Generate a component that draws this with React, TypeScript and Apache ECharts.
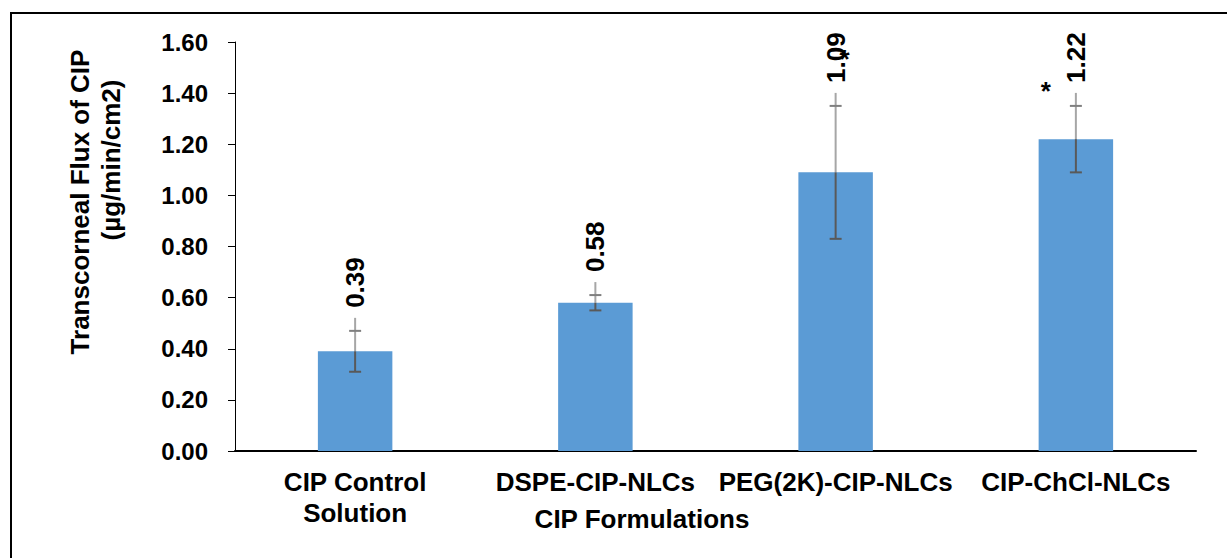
import React, { useEffect, useRef } from "react";
import * as echarts from "echarts";

// Formulations and their mean transcorneal flux (µg/min/cm2) with ± error
const categories = [
  "CIP Control\nSolution",
  "DSPE-CIP-NLCs",
  "PEG(2K)-CIP-NLCs",
  "CIP-ChCl-NLCs",
];
const fluxValues = [0.39, 0.58, 1.09, 1.22];
const fluxErrors = [0.08, 0.03, 0.26, 0.13];
const significant = [false, false, true, true];

const yTicks = { min: 0, max: 1.6, interval: 0.2 };

const FONT = "'Liberation Sans', Arial, sans-serif";
const BAR_COLOR = "#5b9bd5";
const LABEL_GAP = 23; // distance between upper error cap and the value label
// where the significance asterisk sits, relative to the bottom of the value label
const asteriskOffsets: ([number, number] | null)[] = [null, null, [9, -24], [-30, 8]];

export default function App() {
  const ref = useRef<HTMLDivElement>(null);

  useEffect(() => {
    if (!ref.current) return;
    const chart = echarts.init(ref.current, undefined, { renderer: "svg" });

    const errorData = fluxValues.map((v, i) => [i, v, fluxErrors[i]]);

    chart.setOption({
      animation: false,
      backgroundColor: "#ffffff",
      textStyle: { fontFamily: FONT },
      grid: { left: 235, right: 31, top: 42, bottom: 107, containLabel: false },
      xAxis: {
        type: "category",
        data: categories,
        axisLine: { show: true, lineStyle: { color: "#000", width: 2 } },
        axisTick: { show: false },
        axisLabel: {
          interval: 0,
          margin: 15,
          color: "#000",
          fontSize: 26,
          fontWeight: "bold",
          fontFamily: FONT,
          lineHeight: 31,
        },
      },
      yAxis: {
        type: "value",
        min: yTicks.min,
        max: yTicks.max,
        interval: yTicks.interval,
        splitLine: { show: false },
        axisLine: { show: true, lineStyle: { color: "#000", width: 1 } },
        axisTick: { show: true, length: 7, lineStyle: { color: "#000", width: 1 } },
        axisLabel: {
          margin: 27,
          color: "#000",
          fontSize: 24,
          fontWeight: "bold",
          fontFamily: FONT,
          formatter: (v: number) => v.toFixed(2),
        },
      },
      graphic: [
        {
          type: "rect",
          silent: true,
          shape: { x: 11, y: 13, width: 1400, height: 700 },
          style: { fill: "none", stroke: "#000", lineWidth: 2 },
        },
        {
          type: "text",
          x: 80,
          y: 202,
          rotation: Math.PI / 2,
          style: {
            text: "Transcorneal Flux of CIP",
            fontSize: 26,
            fontWeight: "bold",
            fontFamily: FONT,
            fill: "#000",
            align: "center",
            verticalAlign: "middle",
          },
        },
        {
          type: "text",
          x: 111,
          y: 160,
          rotation: Math.PI / 2,
          style: {
            text: "(µg/min/cm2)",
            fontSize: 26,
            fontWeight: "bold",
            fontFamily: FONT,
            fill: "#000",
            align: "center",
            verticalAlign: "middle",
          },
        },
        {
          type: "text",
          x: 642,
          y: 519,
          style: {
            text: "CIP Formulations",
            fontSize: 26,
            fontWeight: "bold",
            fontFamily: FONT,
            fill: "#000",
            align: "center",
            verticalAlign: "middle",
          },
        },
      ],
      series: [
        {
          type: "bar",
          data: fluxValues,
          barWidth: "31%",
          itemStyle: { color: BAR_COLOR },
          z: 1,
        },
        {
          type: "custom",
          data: errorData,
          z: 5,
          renderItem: (params: any, api: any) => {
            const idx = api.value(0);
            const val = api.value(1);
            const err = api.value(2);
            const mid = api.coord([idx, val]);
            const hi = api.coord([idx, val + err]);
            const lo = api.coord([idx, val - err]);
            const x = mid[0];
            const cap = 6;
            const labelBottom = hi[1] - LABEL_GAP;
            const children: any[] = [
              // leader line from the value label down to the bar top
              {
                type: "line",
                shape: { x1: x, y1: labelBottom + 10, x2: x, y2: mid[1] },
                style: { stroke: "#a6a6a6", lineWidth: 2 },
              },
              {
                type: "line",
                shape: { x1: x - cap, y1: hi[1], x2: x + cap, y2: hi[1] },
                style: { stroke: "#7f7f7f", lineWidth: 2 },
              },
              {
                type: "line",
                shape: { x1: x, y1: mid[1], x2: x, y2: lo[1] },
                style: { stroke: "#595959", lineWidth: 2 },
              },
              {
                type: "line",
                shape: { x1: x - cap, y1: lo[1], x2: x + cap, y2: lo[1] },
                style: { stroke: "#595959", lineWidth: 2 },
              },
              {
                type: "text",
                x: x,
                y: labelBottom,
                rotation: Math.PI / 2,
                style: {
                  text: fluxValues[idx].toFixed(2),
                  fontSize: 26,
                  fontWeight: "bold",
                  fontFamily: FONT,
                  fill: "#000",
                  align: "left",
                  verticalAlign: "middle",
                },
              },
            ];
            const off = asteriskOffsets[idx];
            if (significant[idx] && off) {
              children.push({
                type: "text",
                x: x + off[0],
                y: labelBottom + off[1],
                style: {
                  text: "*",
                  fontSize: 26,
                  fontWeight: "bold",
                  fontFamily: FONT,
                  fill: "#000",
                  align: "center",
                  verticalAlign: "middle",
                },
              });
            }
            return { type: "group", children };
          },
        },
      ],
    });

    return () => chart.dispose();
  }, []);

  return (
    <div
      ref={ref}
      style={{ position: "absolute", left: 0, top: 0, width: 1227, height: 558 }}
    />
  );
}
